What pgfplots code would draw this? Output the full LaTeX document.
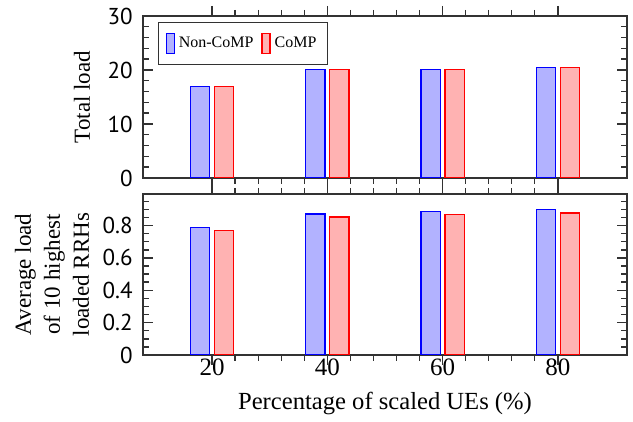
\documentclass[border=0pt]{standalone}
\usepackage{fontspec}
\setmainfont{Liberation Serif}
\newfontfamily\tickfont{PT Sans}
\newfontfamily\serifnum{Liberation Serif}
\usepackage{pgfplots}
\pgfplotsset{compat=1.18}
\definecolor{axgray}{RGB}{50,50,50}
\begin{document}
\begin{tikzpicture}
\pgfplotsset{
  common/.style={
    scale only axis, width=242pt,
    xmin=8, xmax=92,
    xtick={20,40,60,80},
    minor x tick num=4,
    tick align=inside,
    major tick length=5pt, minor tick length=3pt,
    every tick/.style={line width=0.7pt, color=axgray},
    axis line style={line width=0.7pt, color=axgray},
    ybar, bar width=9.66pt,
    /pgf/number format/assume math mode=true,
    yticklabel style={font=\tickfont\fontsize{11.5}{13}\selectfont, anchor=east, inner sep=0pt, xshift=-5pt},
    xticklabel style={anchor=base, inner sep=0pt, yshift=-5.5pt},
    ylabel style={font=\rmfamily\fontsize{11.5}{14.5}\selectfont, align=center, anchor=center},
    legend image code/.code={\draw[#1] (0pt,-5pt) rectangle (4pt,5pt);},
  },
}
\path (-71.5pt,-122pt) rectangle (245pt,89pt);
\begin{axis}[common,
  at={(0,0)}, height=81pt,
  ymin=0, ymax=30, ytick={0,10,20,30}, minor y tick num=4,
  xticklabels={},
  ylabel={Total load},
  ylabel style={at={(axis description cs:-0.126,0.5)}},
  legend style={at={(0.031,0.963)}, anchor=north west, font=\rmfamily\fontsize{8}{9.6}\selectfont,
    draw=axgray, line width=0.6pt, inner xsep=3.5pt, inner ysep=5pt,
    /tikz/every even column/.append style={column sep=2pt}},
  legend columns=2,
]
\addplot[draw=blue, fill=blue!30, line width=0.6pt, bar shift=-6pt]
  coordinates {(20,16.88) (40,20.10) (60,20.10) (80,20.47)};
\addplot[draw=red, fill=red!30, line width=0.6pt, bar shift=6pt]
  coordinates {(20,16.88) (40,20.10) (60,20.10) (80,20.47)};
\legend{Non-CoMP, CoMP}
\end{axis}
\begin{axis}[common,
  at={(0,-88.5pt)}, height=80.5pt,
  ymin=0, ymax=0.995, ytick={0,0.2,0.4,0.6,0.8},
  minor ytick={0.05,0.1,...,0.951},
  xticklabels={{\serifnum\fontsize{12.5}{14}\selectfont 20},{\serifnum\fontsize{12.5}{14}\selectfont 40},{\serifnum\fontsize{12.5}{14}\selectfont 60},{\serifnum\fontsize{12.5}{14}\selectfont 80}},
  ylabel={Average load\\of 10 highest\\loaded RRHs},
  ylabel style={at={(axis description cs:-0.188,0.5)}},
  xlabel={Percentage of scaled UEs (\%)},
  xlabel style={font=\rmfamily\fontsize{12.3}{14}\selectfont, at={(axis description cs:0.5,0)}, anchor=base, yshift=-27.5pt},
]
\addplot[draw=blue, fill=blue!30, line width=0.6pt, bar shift=-6pt]
  coordinates {(20,0.786) (40,0.872) (60,0.888) (80,0.900)};
\addplot[draw=red, fill=red!30, line width=0.6pt, bar shift=6pt]
  coordinates {(20,0.769) (40,0.853) (60,0.866) (80,0.878)};
\end{axis}
\end{tikzpicture}
\end{document}
